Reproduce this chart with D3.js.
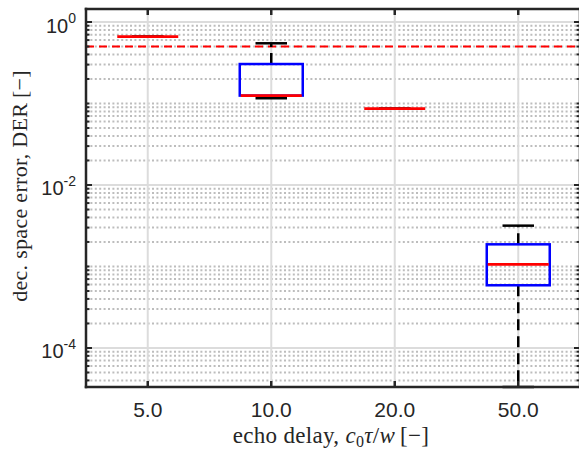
<!DOCTYPE html>
<html>
<head>
<meta charset="utf-8">
<script src="https://cdn.jsdelivr.net/npm/d3@7"></script>
<style>
    body { margin: 0; background: #fff; }
    svg { display: block; }
</style>
</head>
<body>
<svg id="boxChart" width="579" height="451"></svg>
<script>
// echo delay categories (x axis)
const categories = ["5.0", "10.0", "20.0", "50.0"];

// box statistics per category
const whiskerLow = [0.66, 0.116, 0.0863, 1e-5];
const quartile1 = [0.66, 0.125, 0.0863, 0.000588];
const medians = [0.66, 0.125, 0.0863, 0.00106];
const quartile3 = [0.66, 0.305, 0.0863, 0.00187];
const whiskerHigh = [0.66, 0.548, 0.0863, 0.00317];

// red dashed reference level
const thresholdValue = 0.5;

// y axis: limits and labelled decades
const yDomain = [3.32e-5, 1.444];
const yTickExponents = [0, -2, -4];

class BoxChart {

    constructor() {
        this.margin = {
            top: 9,
            right: -1,
            bottom: 64,
            left: 86
        };
        this.axisColor = "#262626";
    }

    draw() {
        let svg = d3.select("#boxChart");
        let width = svg.attr("width") - this.margin.left - this.margin.right;
        let height = svg.attr("height") - this.margin.top - this.margin.bottom;

        svg.append("defs").append("clipPath")
            .attr("id", "plotClip")
            .append("rect")
            .attr("width", width)
            .attr("height", height);

        let g = svg.append("g")
            .attr("transform", "translate(" + this.margin.left + "," + this.margin.top + ")");

        let xScale = d3.scalePoint()
            .domain(categories)
            .range([0, width])
            .padding(0.5);

        let yScale = d3.scaleLog()
            .domain(yDomain)
            .range([height, 0])
            .clamp(true);

        let majorTicks = yTickExponents.map(e => Math.pow(10, e));
        let minorTicks = [];
        for (let k = -5; k <= 0; k++) {
            for (let m = 1; m <= 9; m++) {
                let v = m * Math.pow(10, k);
                if (v >= yDomain[0] && v <= yDomain[1] && !yTickExponents.includes(Math.round(Math.log10(v) * 1000) / 1000)) {
                    minorTicks.push(v);
                }
            }
        }

        // grid
        let grid = g.append("g").attr("clip-path", "url(#plotClip)");
        grid.selectAll(".minor")
            .data(minorTicks)
            .enter().append("line")
            .attr("x1", 0)
            .attr("x2", width)
            .attr("y1", d => yScale(d))
            .attr("y2", d => yScale(d))
            .attr("stroke", "#bdbdbd")
            .attr("stroke-width", 2)
            .attr("stroke-dasharray", "2,2.4");
        grid.selectAll(".major")
            .data(majorTicks)
            .enter().append("line")
            .attr("x1", 0)
            .attr("x2", width)
            .attr("y1", d => yScale(d))
            .attr("y2", d => yScale(d))
            .attr("stroke", "#dcdcdc")
            .attr("stroke-width", 2);
        grid.selectAll(".vgrid")
            .data(categories)
            .enter().append("line")
            .attr("x1", d => xScale(d))
            .attr("x2", d => xScale(d))
            .attr("y1", 0)
            .attr("y2", height)
            .attr("stroke", "#dcdcdc")
            .attr("stroke-width", 2);

        // reference line
        grid.append("line")
            .attr("x1", 0)
            .attr("x2", width)
            .attr("y1", yScale(thresholdValue))
            .attr("y2", yScale(thresholdValue))
            .attr("stroke", "#ff0000")
            .attr("stroke-width", 2)
            .attr("stroke-dasharray", "8,5");

        // boxes
        let boxWidth = xScale.step() * 0.51;
        let capWidth = boxWidth / 2;
        let boxes = g.append("g");

        for (let i = 0; i < categories.length; i++) {
            let cx = xScale(categories[i]);

            // whiskers, drawn outward from the box
            boxes.append("line")
                .attr("x1", cx).attr("x2", cx)
                .attr("y1", yScale(quartile3[i]))
                .attr("y2", yScale(whiskerHigh[i]))
                .attr("stroke", "#000")
                .attr("stroke-width", 2.5)
                .attr("stroke-dasharray", "11,6");
            boxes.append("line")
                .attr("x1", cx).attr("x2", cx)
                .attr("y1", yScale(quartile1[i]))
                .attr("y2", yScale(whiskerLow[i]))
                .attr("stroke", "#000")
                .attr("stroke-width", 2.5)
                .attr("stroke-dasharray", "11,6");

            // caps
            [whiskerHigh[i], whiskerLow[i]].forEach(function (v) {
                boxes.append("line")
                    .attr("x1", cx - capWidth / 2)
                    .attr("x2", cx + capWidth / 2)
                    .attr("y1", yScale(v))
                    .attr("y2", yScale(v))
                    .attr("stroke", "#000")
                    .attr("stroke-width", 2.5);
            });

            boxes.append("rect")
                .attr("x", cx - boxWidth / 2)
                .attr("y", yScale(quartile3[i]))
                .attr("width", boxWidth)
                .attr("height", yScale(quartile1[i]) - yScale(quartile3[i]))
                .attr("fill", "none")
                .attr("stroke", "#0000ff")
                .attr("stroke-width", 2.5);

            boxes.append("line")
                .attr("x1", cx - boxWidth / 2 + 1)
                .attr("x2", cx + boxWidth / 2 - 1)
                .attr("y1", yScale(medians[i]))
                .attr("y2", yScale(medians[i]))
                .attr("stroke", "#ff0000")
                .attr("stroke-width", 2.8);
        }

        // axes box
        let axisG = g.append("g").attr("stroke", this.axisColor);
        let sides = [[0, 0, width, 0], [0, height, width, height], [0, 0, 0, height], [width, 0, width, height]];
        sides.forEach(function (s) {
            axisG.append("line")
                .attr("x1", s[0]).attr("y1", s[1])
                .attr("x2", s[2]).attr("y2", s[3])
                .attr("stroke-width", 2.5)
                .attr("stroke-linecap", "square");
        });

        // y ticks on both sides (inward)
        let yTickData = majorTicks.map(v => ({ v: v, len: 6 }))
            .concat(minorTicks.map(v => ({ v: v, len: 3.5 })));
        yTickData.forEach(function (t) {
            axisG.append("line")
                .attr("x1", 0).attr("x2", t.len)
                .attr("y1", yScale(t.v)).attr("y2", yScale(t.v))
                .attr("stroke-width", 2);
            axisG.append("line")
                .attr("x1", width).attr("x2", width - t.len)
                .attr("y1", yScale(t.v)).attr("y2", yScale(t.v))
                .attr("stroke-width", 2);
        });

        // x ticks top and bottom (inward)
        categories.forEach(function (c) {
            axisG.append("line")
                .attr("x1", xScale(c)).attr("x2", xScale(c))
                .attr("y1", 0).attr("y2", 6)
                .attr("stroke-width", 2.5);
            axisG.append("line")
                .attr("x1", xScale(c)).attr("x2", xScale(c))
                .attr("y1", height).attr("y2", height - 6)
                .attr("stroke-width", 2.5);
        });

        // y tick labels 10^k
        yTickExponents.forEach(function (e) {
            let t = g.append("text")
                .attr("x", -10)
                .attr("y", yScale(Math.pow(10, e)) + 10.5)
                .attr("text-anchor", "end")
                .attr("fill", "#262626")
                .style("font-family", "'Liberation Sans', Arial, sans-serif")
                .style("font-size", "20px");
            t.append("tspan").text("10");
            t.append("tspan")
                .attr("dy", -9.5)
                .style("font-size", "14px")
                .text(e);
        });

        // x tick labels
        g.selectAll(".xlabel")
            .data(categories)
            .enter().append("text")
            .attr("x", d => xScale(d))
            .attr("y", height + 30)
            .attr("text-anchor", "middle")
            .attr("fill", "#262626")
            .style("font-family", "'Liberation Sans', Arial, sans-serif")
            .style("font-size", "21px")
            .text(d => d);

        // axis titles
        let serif = "'Liberation Serif', 'Times New Roman', serif";
        let xt = g.append("text")
            .attr("x", width / 2 - 2)
            .attr("y", height + 56)
            .attr("text-anchor", "middle")
            .attr("fill", "#262626")
            .style("font-family", serif)
            .style("font-size", "23px")
            .style("letter-spacing", "0.3px");
        xt.append("tspan").text("echo delay, ");
        xt.append("tspan").style("font-style", "italic").text("c");
        xt.append("tspan").attr("dy", 4).style("font-size", "16px").text("0");
        xt.append("tspan").attr("dy", -4).style("font-style", "italic").text("τ");
        xt.append("tspan").text("/");
        xt.append("tspan").style("font-style", "italic").text("w");
        xt.append("tspan").text("\u2009[−]");

        g.append("text")
            .attr("transform", "translate(" + (-59) + "," + (186 - this.margin.top) + ") rotate(-90)")
            .attr("text-anchor", "middle")
            .attr("fill", "#262626")
            .style("font-family", serif)
            .style("font-size", "22px")
            .style("letter-spacing", "0.3px")
            .text("dec. space error, DER\u2009[−]");
    }
}

let chart = new BoxChart();
chart.draw();
</script>
</body>
</html>
